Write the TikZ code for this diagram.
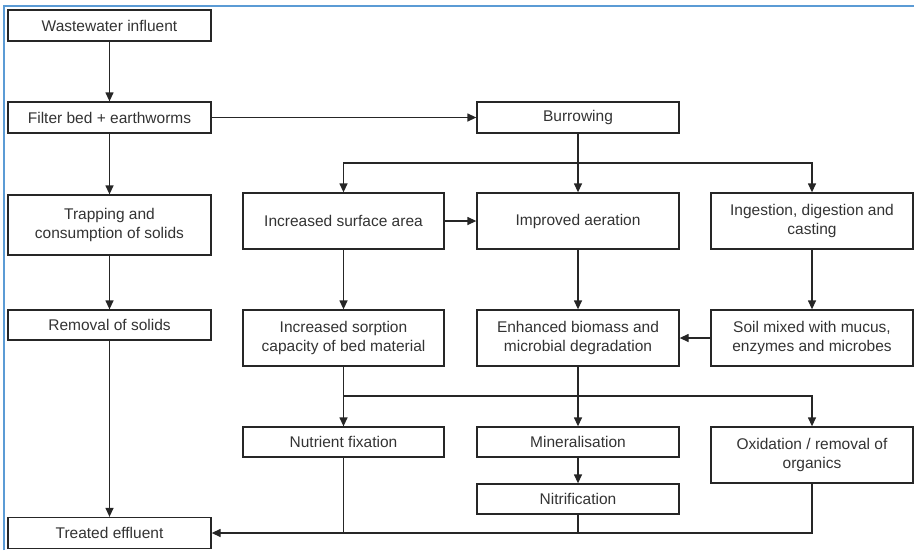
\documentclass[tikz,border=0pt]{standalone}
\usepackage{fontspec}
\setmainfont{Liberation Sans}
\usetikzlibrary{arrows.meta}
\definecolor{txt}{HTML}{333333}
\definecolor{ln}{HTML}{262626}
\definecolor{frame}{HTML}{5B9BD5}
\begin{document}
\begin{tikzpicture}[x=1pt,y=-1pt,
  box/.style={draw=ln, line width=1.3pt, align=center, text=txt, inner sep=0pt,
    font=\fontsize{15.5}{19.5}\selectfont},
  b1/.style={box, minimum height=31pt},
  b2/.style={box, minimum height=56pt},
  arr/.style={draw=ln, line width=1.3pt, -{Triangle[length=9pt,width=8pt]}},
  ln/.style={draw=ln, line width=1.3pt}]
\useasboundingbox (0,0) rectangle (914,550);
\draw[frame, line width=1.6pt] (4,550) -- (4,6) -- (914,6);

\node[b1, minimum width=203pt] (win) at (109.5,25.5) {Wastewater influent};
\node[b1, minimum width=203pt] (filt) at (109.5,117.5) {Filter bed + earthworms};
\node[b1, minimum width=202pt] (burr) at (578,117.5) {Burrowing};
\node[box, minimum width=203pt, minimum height=60pt] (trap) at (109.5,225) {Trapping and\\consumption of solids};
\node[box, minimum width=203pt, minimum height=30pt] (rem) at (109.5,325) {Removal of solids};
\node[box, minimum width=203pt, minimum height=31pt] (treat) at (109.5,533) {Treated effluent};

\node[b2, minimum width=201pt] (isa) at (343.5,221) {Increased surface area};
\node[b2, minimum width=202pt] (ia) at (578,221) {Improved aeration};
\node[b2, minimum width=202pt] (ing) at (812,221) {Ingestion, digestion and\\casting};

\node[b2, minimum width=201pt] (iss) at (343.5,338) {Increased sorption\\capacity of bed material};
\node[b2, minimum width=202pt] (eb) at (578,338) {Enhanced biomass and\\microbial degradation};
\node[b2, minimum width=202pt] (soil) at (812,338) {Soil mixed with mucus,\\enzymes and microbes};

\node[box, minimum width=201pt, minimum height=30pt] (nf) at (343.5,442) {Nutrient fixation};
\node[box, minimum width=202pt, minimum height=30pt] (min) at (578,442) {Mineralisation};
\node[box, minimum width=202pt, minimum height=30pt] (nit) at (578,499) {Nitrification};
\node[b2, minimum width=202pt] (ox) at (812,455) {Oxidation / removal of\\organics};

\coordinate (j1) at (578,163);
\coordinate (j2) at (578,396);

% left column
\draw[arr] (win) -- (filt);
\draw[arr] (filt) -- (trap);
\draw[arr] (trap) -- (rem);
\draw[arr] (rem) -- (treat);
\draw[arr] (filt) -- (burr);

% burrowing branches
\draw[ln] (burr) -- (j1);
\draw[arr] (j1) -| (isa);
\draw[arr] (j1) -- (ia);
\draw[arr] (j1) -| (ing);

\draw[arr] (isa) -- (ia);
\draw[arr] (isa) -- (iss);
\draw[arr] (ia) -- (eb);
\draw[arr] (ing) -- (soil);
\draw[arr] (soil) -- (eb);

% second branching
\draw[ln] (eb) -- (j2);
\draw[ln] (iss) -- (iss.south |- j2);
\draw[arr] (j2) -| (nf);
\draw[arr] (j2) -- (min);
\draw[arr] (j2) -| (ox);
\draw[arr] (min) -- (nit);

% return to treated effluent
\draw[arr] (ox.south) |- (treat.east);
\draw[ln] (nf) -- (nf.south |- treat.east);
\draw[ln] (nit) -- (nit.south |- treat.east);
\end{tikzpicture}
\end{document}
